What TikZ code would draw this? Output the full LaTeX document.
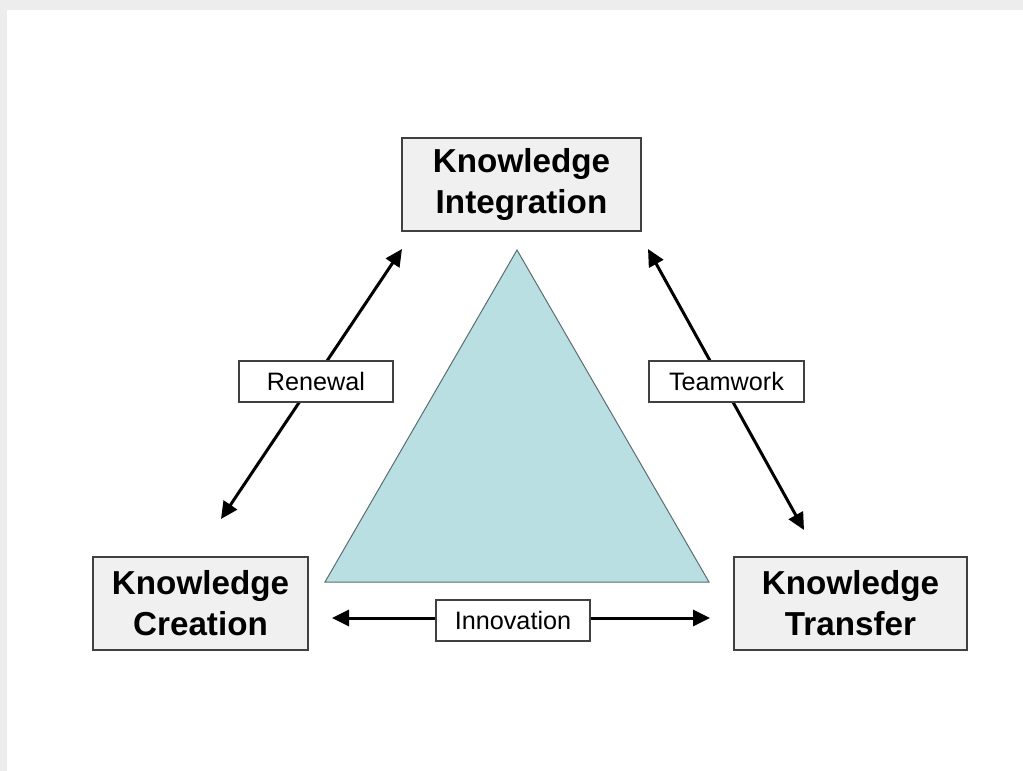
\documentclass[tikz,border=0pt]{standalone}
\usepackage{fontspec}
\setmainfont{Liberation Sans}
\usetikzlibrary{arrows.meta}
\definecolor{boxfill}{RGB}{240,240,240}
\definecolor{boxline}{RGB}{64,64,64}
\definecolor{trifill}{RGB}{185,223,227}
\definecolor{triline}{RGB}{90,110,112}
\begin{document}
\begin{tikzpicture}[x=0.5pt,y=-0.5pt,
  bigbox/.style={draw=boxline,line width=0.7pt,fill=boxfill,inner sep=0pt,
    minimum height=46.5pt,align=center,font=\fontsize{16.6}{20.5}\selectfont\bfseries},
  lblbox/.style={draw=boxline,line width=0.6pt,fill=white,inner sep=0pt,
    minimum width=77pt,minimum height=20.5pt,font=\fontsize{12.6}{14}\selectfont},
  dbl/.style={line width=1.5pt,{Triangle[length=8.5pt,width=8pt]}-{Triangle[length=8.5pt,width=8pt]}}]
\useasboundingbox (0,0) rectangle (1023,771);
\fill[white] (0,0) rectangle (1023,771);
\fill[gray!14] (0,0) rectangle (1023,10);
\fill[gray!14] (0,0) rectangle (7,771);
% triangle
\filldraw[fill=trifill,draw=triline,line width=0.5pt] (517,250) -- (709,582) -- (325,582) -- cycle;
% boxes
\node[bigbox,minimum width=119.5pt] (ki) at (521.5,184.5) {Knowledge\\Integration};
\node[bigbox,minimum width=107.5pt] (kc) at (200.5,603.5) {Knowledge\\Creation};
\node[bigbox,minimum width=116.5pt] (kt) at (850.5,603.5) {Knowledge\\Transfer};
% arrow ends
\coordinate (r1) at (221,519);
\coordinate (r2) at (402,249);
\coordinate (t1) at (648,249);
\coordinate (t2) at (804,530);
\coordinate (i1) at (332,618);
\coordinate (i2) at (710,618);
\draw[dbl] (r1) -- (r2);
\draw[dbl] (t1) -- (t2);
\draw[dbl] (i1) -- (i2);
% labels
\node[lblbox] (ren) at (316,381.5) {Renewal};
\node[lblbox,minimum width=77.5pt] (team) at (726.5,381.5) {Teamwork};
\node[lblbox] (inn) at (513,620.5) {Innovation};
\end{tikzpicture}
\end{document}
